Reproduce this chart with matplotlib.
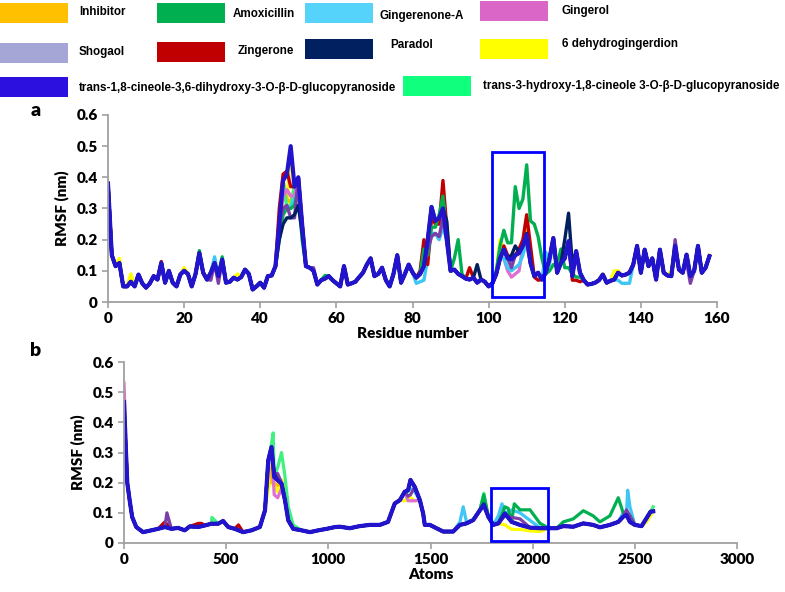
import matplotlib
matplotlib.use("Agg")
import matplotlib.pyplot as plt
from matplotlib.patches import Rectangle

plt.rcParams['font.family'] = ['Lato', 'DejaVu Sans']

# ---- legend entries (name, legend colour, line colour)
names = ['Inhibitor', 'Amoxicillin', 'Gingerenone-A', 'Gingerol',
         'Shogaol', 'Zingerone', 'Paradol', '6 dehydrogingerdion',
         'trans-1,8-cineole-3,6-dihydroxy-3-O-\u03b2-D-glucopyranoside',
         'trans-3-hydroxy-1,8-cineole 3-O-\u03b2-D-glucopyranoside']
patch_colors = ['#FFC000', '#00B050', '#56D3FA', '#DA67C7', '#A6A6D6',
                '#C00000', '#002060', '#FFFF00', '#2B10E0', '#10FF7C']
line_colors = ['#FFC000', '#00B050', '#3EC6F5', '#E070D0', '#7B3FA8',
               '#C00000', '#002060', '#FFFF00', '#2214CC', '#40F080']

# ---- panel a : RMSF per residue (trans-1,8-cineole... curve, drawn on top)
res_a = list(range(159))
rmsf_a = [0.38, 0.15, 0.115, 0.125, 0.05, 0.05, 0.065, 0.05, 0.088, 0.06,
          0.046, 0.06, 0.083, 0.072, 0.125, 0.062, 0.1, 0.062, 0.05, 0.088,
          0.1, 0.09, 0.05, 0.09, 0.157, 0.094, 0.072, 0.094, 0.125, 0.083,
          0.136, 0.062, 0.065, 0.078, 0.072, 0.08, 0.104, 0.09, 0.04, 0.05,
          0.062, 0.046, 0.083, 0.085, 0.115, 0.25, 0.39, 0.41, 0.5, 0.37,
          0.40, 0.25, 0.115, 0.11, 0.1, 0.056, 0.07, 0.075, 0.083, 0.07,
          0.06, 0.05, 0.115, 0.056, 0.06, 0.065, 0.08, 0.094, 0.12, 0.14,
          0.083, 0.09, 0.11, 0.07, 0.05, 0.09, 0.15, 0.062, 0.09, 0.12,
          0.095, 0.078, 0.09, 0.115, 0.2, 0.305, 0.26, 0.27, 0.3, 0.2,
          0.1, 0.104, 0.09, 0.083, 0.075, 0.072, 0.078, 0.062, 0.072, 0.065,
          0.05, 0.06, 0.09, 0.14, 0.168, 0.14, 0.136, 0.15, 0.157, 0.18,
          0.216, 0.125, 0.083, 0.094, 0.072, 0.094, 0.14, 0.205, 0.094, 0.125,
          0.14, 0.195, 0.083, 0.163, 0.094, 0.07, 0.056, 0.058, 0.062, 0.07,
          0.088, 0.062, 0.068, 0.072, 0.094, 0.085, 0.088, 0.094, 0.12, 0.18,
          0.094, 0.168, 0.115, 0.14, 0.072, 0.168, 0.094, 0.085, 0.083, 0.18,
          0.104, 0.094, 0.152, 0.083, 0.1, 0.18, 0.094, 0.11, 0.147]

# residues where the other compounds differ from that curve
diff_a = [
    {47: 0.33, 48: 0.32, 50: 0.38, 110: 0.24},
    {3: 0.12, 24: 0.165, 30: 0.145, 45: 0.2, 46: 0.28, 47: 0.3, 48: 0.3,
     49: 0.31, 50: 0.36, 51: 0.2, 57: 0.085, 83: 0.17, 84: 0.15, 85: 0.24,
     86: 0.24, 87: 0.28, 88: 0.34, 89: 0.22, 91: 0.14, 92: 0.2, 93: 0.09,
     102: 0.1, 103: 0.18, 104: 0.23, 105: 0.19, 106: 0.19, 107: 0.37,
     108: 0.3, 109: 0.33, 110: 0.44, 111: 0.26, 112: 0.25, 113: 0.21,
     114: 0.14, 115: 0.09, 116: 0.1, 117: 0.12, 118: 0.12, 119: 0.17,
     120: 0.11, 121: 0.11, 122: 0.09, 123: 0.08, 124: 0.08, 125: 0.07},
    {28: 0.145, 45: 0.22, 46: 0.3, 47: 0.31, 48: 0.3, 49: 0.33, 50: 0.36,
     81: 0.06, 82: 0.065, 83: 0.07, 84: 0.14, 85: 0.22, 86: 0.22, 87: 0.2,
     88: 0.24, 104: 0.14, 105: 0.11, 106: 0.1, 107: 0.11, 108: 0.12,
     109: 0.15, 110: 0.2, 115: 0.16, 116: 0.12, 134: 0.07, 135: 0.06,
     136: 0.06, 137: 0.06},
    {46: 0.34, 47: 0.36, 48: 0.34, 49: 0.34, 50: 0.39, 88: 0.25,
     104: 0.14, 105: 0.1, 106: 0.08, 107: 0.09, 108: 0.1, 110: 0.18},
    {27: 0.07, 29: 0.06, 46: 0.3, 47: 0.31, 48: 0.27, 49: 0.27, 50: 0.4,
     54: 0.11, 84: 0.17, 85: 0.21, 86: 0.22, 87: 0.21, 88: 0.27,
     106: 0.11, 110: 0.19, 149: 0.2, 152: 0.13, 153: 0.06},
    {14: 0.13, 45: 0.3, 46: 0.41, 47: 0.42, 48: 0.37, 49: 0.37, 50: 0.4,
     82: 0.1, 83: 0.2, 84: 0.12, 85: 0.27, 86: 0.25, 87: 0.25, 88: 0.39,
     89: 0.24, 95: 0.11, 104: 0.18, 105: 0.15, 106: 0.14, 107: 0.15,
     108: 0.17, 109: 0.2, 110: 0.28, 111: 0.18, 112: 0.08, 113: 0.07,
     122: 0.07, 123: 0.07, 124: 0.065},
    {45: 0.2, 46: 0.25, 47: 0.27, 48: 0.27, 49: 0.28, 50: 0.31, 51: 0.22,
     89: 0.26, 97: 0.12, 106: 0.15, 107: 0.18, 108: 0.16, 110: 0.22,
     120: 0.2, 121: 0.285, 122: 0.12},
    {3: 0.14, 6: 0.09, 20: 0.11, 34: 0.09, 45: 0.22, 46: 0.31, 47: 0.3,
     50: 0.36, 103: 0.2, 104: 0.17, 110: 0.27, 130: 0.09, 133: 0.1,
     134: 0.1, 148: 0.1, 158: 0.15},
    {},
    {47: 0.3, 48: 0.31},
]

# ---- panel b : RMSF per atom
atoms_b = [0, 6, 16, 28, 40, 60, 93, 134, 167, 200, 232, 265, 297, 322, 363,
           395, 428, 461, 485, 510, 542, 583, 624, 665, 690, 706, 722, 735,
           752, 771, 788, 804, 828, 869, 910, 951, 992, 1034, 1056, 1105,
           1154, 1203, 1252, 1292, 1325, 1350, 1374, 1390, 1402, 1423, 1448,
           1464, 1472, 1497, 1529, 1562, 1611, 1644, 1676, 1709, 1742, 1761,
           1783, 1807, 1832, 1864, 1897, 1938, 1987, 2036, 2077, 2117, 2150,
           2199, 2248, 2296, 2329, 2378, 2419, 2443, 2459, 2476, 2500, 2533,
           2557, 2577, 2590]
rmsf_b = [0.467, 0.36, 0.2, 0.14, 0.086, 0.053, 0.036, 0.042, 0.047, 0.053,
          0.047, 0.05, 0.042, 0.055, 0.053, 0.058, 0.064, 0.064, 0.073, 0.053,
          0.047, 0.036, 0.042, 0.053, 0.108, 0.274, 0.318, 0.219, 0.208, 0.197,
          0.141, 0.075, 0.047, 0.042, 0.036, 0.042, 0.047, 0.053, 0.054, 0.049,
          0.056, 0.06, 0.06, 0.07, 0.131, 0.142, 0.17, 0.175, 0.209, 0.186,
          0.142, 0.098, 0.06, 0.06, 0.049, 0.038, 0.038, 0.06, 0.065, 0.076,
          0.109, 0.126, 0.087, 0.06, 0.065, 0.098, 0.07, 0.06, 0.051, 0.049,
          0.049, 0.049, 0.056, 0.054, 0.065, 0.06, 0.052, 0.06, 0.07, 0.087,
          0.093, 0.07, 0.06, 0.056, 0.082, 0.104, 0.105]

diff_b = [
    {722: 0.2, 735: 0.2, 752: 0.19},
    {1761: 0.16, 1864: 0.12, 1880: 0.115, 1910: 0.13, 1938: 0.11,
     1987: 0.11, 2036: 0.065, 2077: 0.05, 2150: 0.07, 2199: 0.08,
     2248: 0.107, 2296: 0.09, 2329: 0.07, 2378: 0.09, 2419: 0.15,
     2443: 0.1, 2476: 0.09, 2500: 0.06},
    {1402: 0.18, 1423: 0.17, 1644: 0.07, 1660: 0.12, 1676: 0.07,
     1761: 0.15, 1832: 0.09, 1850: 0.13, 1897: 0.11, 1938: 0.1,
     1987: 0.075, 2036: 0.05, 2443: 0.1, 2465: 0.175, 2476: 0.12,
     2500: 0.06},
    {0: 0.53, 6: 0.42, 735: 0.16, 752: 0.15, 771: 0.18, 1390: 0.14,
     1402: 0.14, 1423: 0.14, 1761: 0.15, 2459: 0.1},
    {210: 0.1, 722: 0.3, 735: 0.23, 752: 0.23, 771: 0.2, 1390: 0.155,
     1402: 0.16, 1864: 0.09, 1897: 0.085, 1938: 0.08, 2459: 0.11,
     2476: 0.09},
    {200: 0.07, 363: 0.065, 380: 0.065, 560: 0.06},
    {735: 0.23, 1761: 0.13},
    {0: 0.49, 706: 0.18, 722: 0.21, 735: 0.19, 752: 0.17, 771: 0.21,
     788: 0.17, 1374: 0.14, 1390: 0.15, 1402: 0.15, 1423: 0.14,
     1864: 0.06, 1897: 0.045, 1938: 0.045, 1987: 0.04, 2036: 0.038,
     2557: 0.07, 2577: 0.09},
    {},
    {430: 0.085, 722: 0.33, 730: 0.365, 752: 0.25, 771: 0.3, 788: 0.22,
     804: 0.12, 828: 0.06, 1390: 0.17, 1761: 0.165, 2590: 0.12},
]

draw_order = [7, 0, 9, 3, 2, 5, 1, 4, 6, 8]


def merged(xs, ys, extra):
    d = dict(zip(xs, ys))
    d.update(extra)
    keys = sorted(d)
    return keys, [d[k] for k in keys]


fig = plt.figure(figsize=(7.85, 5.92), dpi=100)
W, H = 785.0, 592.0


def style(ax, xmax, xstep):
    for s in ['top', 'right']:
        ax.spines[s].set_visible(False)
    for s in ['left', 'bottom']:
        ax.spines[s].set_color('#A0A0A0')
        ax.spines[s].set_linewidth(1.3)
    ax.set_xlim(0, xmax)
    ax.set_ylim(0, 0.6)
    ax.set_xticks(range(0, xmax + 1, xstep))
    ax.set_yticks([0, 0.1, 0.2, 0.3, 0.4, 0.5, 0.6])
    ax.set_yticklabels(['0', '0.1', '0.2', '0.3', '0.4', '0.5', '0.6'])
    ax.tick_params(direction='out', length=4, width=1.2, color='#A0A0A0',
                   labelsize=11)
    for lab in ax.get_xticklabels() + ax.get_yticklabels():
        lab.set_fontweight('heavy')


# panel a
ax1 = fig.add_axes([108 / W, 1 - 302 / H, 609 / W, 187 / H])
for i in draw_order:
    xs, ys = merged(res_a, rmsf_a, diff_a[i])
    ax1.plot(xs, ys, color=line_colors[i], lw=3.0 if i == 8 else 2.4,
             solid_joinstyle='round')
style(ax1, 160, 20)
ax1.set_xlabel('Residue number', fontsize=11, fontweight='heavy', labelpad=1)
ax1.set_ylabel('RMSF (nm)', fontsize=11, fontweight='heavy', labelpad=5)
ax1.add_patch(Rectangle((101, 0.016), 13.6, 0.465, fill=False,
                        edgecolor='#0000FF', lw=2, clip_on=False, zorder=5))

# panel b
ax2 = fig.add_axes([124 / W, 1 - 543 / H, 613 / W, 181 / H])
for i in draw_order:
    xs, ys = merged(atoms_b, rmsf_b, diff_b[i])
    ax2.plot(xs, ys, color=line_colors[i], lw=3.0 if i == 8 else 2.3,
             solid_joinstyle='round')
style(ax2, 3000, 500)
ax2.set_xlabel('Atoms', fontsize=11, fontweight='heavy', labelpad=1)
ax2.set_ylabel('RMSF (nm)', fontsize=11, fontweight='heavy', labelpad=5)
ax2.add_patch(Rectangle((1796, 0.007), 279, 0.175, fill=False,
                        edgecolor='#0000FF', lw=2, clip_on=False, zorder=5))

fig.text(36 / W, 1 - 111 / H, 'a', fontsize=14, fontweight='heavy',
         ha='center', va='center')
fig.text(36 / W, 1 - 350 / H, 'b', fontsize=14, fontweight='heavy',
         ha='center', va='center')

# legend drawn as coloured blocks with labels
legend_pos = [(0, 3, 79, 12), (157, 3, 233, 14), (305, 3, 380, 16),
              (480, 1, 562, 11), (0, 43, 79, 52), (157, 42, 238, 51),
              (305, 39, 390, 45), (480, 39, 562, 44), (0, 77, 79, 88),
              (403, 76, 483, 86)]
for i, (rx, ry, tx, ty) in enumerate(legend_pos):
    fig.patches.append(Rectangle((rx / W, 1 - (ry + 20) / H), 68 / W, 20 / H,
                                 transform=fig.transFigure,
                                 facecolor=patch_colors[i], edgecolor='none'))
    fig.text(tx / W, 1 - ty / H, names[i], fontsize=8.4, fontweight='bold',
             family=['Liberation Sans', 'DejaVu Sans'], ha='left',
             va='center')

fig.savefig('out.png', dpi=100)
